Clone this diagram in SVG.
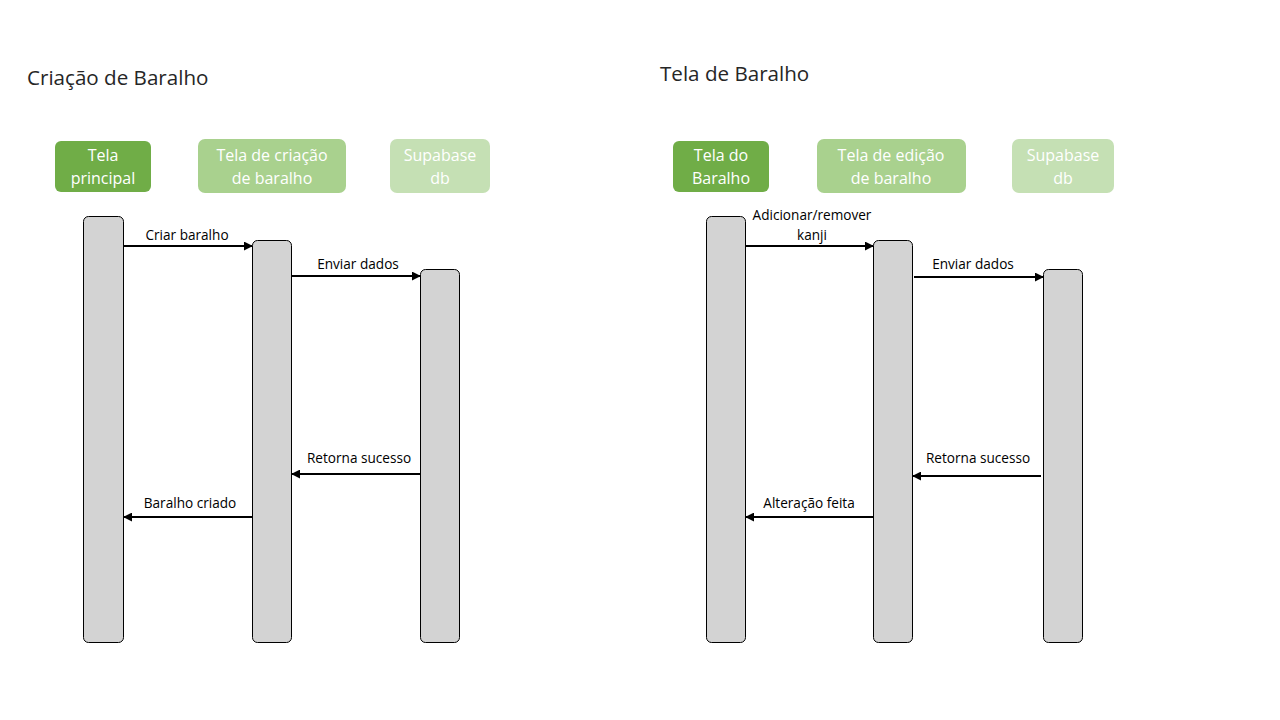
<svg xmlns="http://www.w3.org/2000/svg" width="1280" height="720" viewBox="0 0 1280 720">
<style>
.title{font-family:"Open Sans","Noto Sans",sans-serif;font-size:20.6px;fill:#262626}
.hdr{font-family:"Open Sans","Noto Sans",sans-serif;font-size:16px;fill:#ffffff;text-anchor:middle}
.bar{fill:#D3D3D3;stroke:#000;stroke-width:1}
.lbl{font-family:"Open Sans","Noto Sans",sans-serif;font-size:13.6px;fill:#000;text-anchor:middle}
.msg{stroke:#000;stroke-width:2;fill:none;marker-end:url(#ah)}
.c1{fill:#70AD47}.c2{fill:#A9D18E}.c3{fill:#C5E0B4}
</style>
<defs>
<marker id="ah" viewBox="0 0 10 10" refX="9" refY="5" markerWidth="4.5" markerHeight="4.5" orient="auto" markerUnits="strokeWidth">
<path d="M0,0 L10,5 L0,10 z" fill="#000"/>
</marker>
</defs>
<rect width="1280" height="720" fill="#fff"/>
<text class="title" x="27" y="85">Criação de Baralho</text>
<text class="title" x="660" y="81">Tela de Baralho</text>

<g id="l-h1"><rect class="c1" x="55" y="141" width="96" height="51" rx="6"/><text class="hdr" x="103" y="161">Tela</text><text class="hdr" x="103" y="184">principal</text></g>
<g id="l-h2"><rect class="c2" x="198" y="139" width="148" height="54" rx="7"/><text class="hdr" x="272" y="161">Tela de criação</text><text class="hdr" x="272" y="184">de baralho</text></g>
<g id="l-h3"><rect class="c3" x="390" y="139" width="100" height="54" rx="7"/><text class="hdr" x="440" y="161">Supabase</text><text class="hdr" x="440" y="184">db</text></g>
<g id="l-b1"><rect class="bar" x="83.5" y="216.5" width="40" height="426" rx="5"/></g>
<g id="l-b2"><rect class="bar" x="252.5" y="240.5" width="39" height="402" rx="5"/></g>
<g id="l-b3"><rect class="bar" x="420.5" y="269.5" width="39" height="373" rx="5"/></g>

<g id="r-h1"><rect class="c1" x="673" y="141" width="96" height="51" rx="6"/><text class="hdr" x="721" y="161">Tela do</text><text class="hdr" x="721" y="184">Baralho</text></g>
<g id="r-h2"><rect class="c2" x="817" y="139" width="149" height="54" rx="7"/><text class="hdr" x="891" y="161">Tela de edição</text><text class="hdr" x="891" y="184">de baralho</text></g>
<g id="r-h3"><rect class="c3" x="1012" y="139" width="102" height="54" rx="7"/><text class="hdr" x="1063" y="161">Supabase</text><text class="hdr" x="1063" y="184">db</text></g>
<g id="r-b1"><rect class="bar" x="706.5" y="216.5" width="39" height="426" rx="5"/></g>
<g id="r-b2"><rect class="bar" x="873.5" y="240.5" width="39" height="402" rx="5"/></g>
<g id="r-b3"><rect class="bar" x="1043.5" y="269.5" width="39" height="373" rx="5"/></g>

<g id="connectors">
<line class="msg" x1="124" y1="246" x2="252" y2="246"/>
<text class="lbl" x="187" y="240">Criar baralho</text>
<line class="msg" x1="292" y1="276" x2="420" y2="276"/>
<text class="lbl" x="358" y="269">Enviar dados</text>
<line class="msg" x1="420" y1="474" x2="292" y2="474"/>
<text class="lbl" x="359" y="463">Retorna sucesso</text>
<line class="msg" x1="252" y1="517" x2="124" y2="517"/>
<text class="lbl" x="190" y="508">Baralho criado</text>

<line class="msg" x1="746" y1="246" x2="873" y2="246"/>
<text class="lbl" x="812" y="220">Adicionar/remover</text>
<text class="lbl" x="812" y="240">kanji</text>
<line class="msg" x1="914" y1="277" x2="1043" y2="277"/>
<text class="lbl" x="973" y="269">Enviar dados</text>
<line class="msg" x1="1041" y1="476" x2="913" y2="476"/>
<text class="lbl" x="978" y="463">Retorna sucesso</text>
<line class="msg" x1="873" y1="517" x2="746" y2="517"/>
<text class="lbl" x="809" y="508">Alteração feita</text>
</g>
</svg>
